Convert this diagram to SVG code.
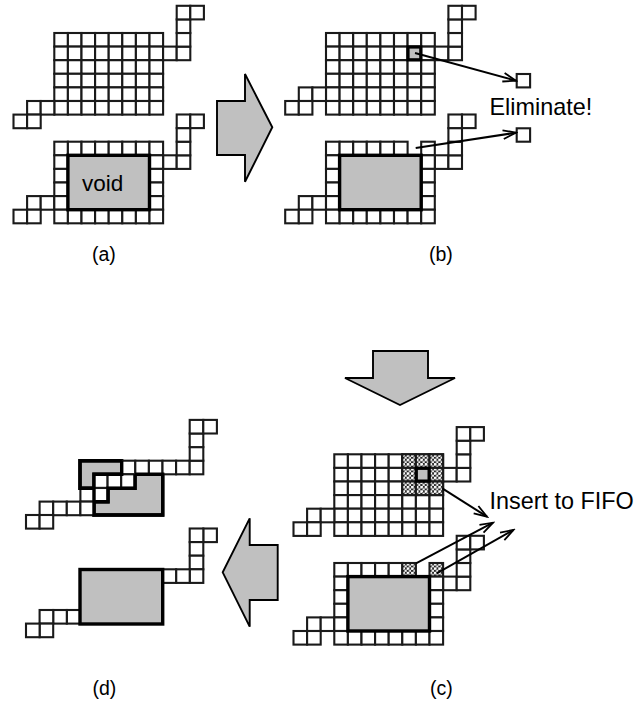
<svg xmlns="http://www.w3.org/2000/svg" width="644" height="702" viewBox="0 0 644 702">
<style>
.c{fill:#fff;stroke:#1a1a1a;stroke-width:2.1}
.h{fill:url(#hatch);stroke:#1a1a1a;stroke-width:2.1}
.g{fill:#c0c0c0;stroke:#000;stroke-width:3.4}
.s{fill:#c0c0c0;stroke:#000;stroke-width:3.2}
.b{fill:#c0c0c0;stroke:#000;stroke-width:1.9;stroke-linejoin:miter}
.t{font-family:"Liberation Sans",Arial,sans-serif;fill:#000}
.l{font-size:19.5px}
.m{font-size:23.4px}
.a{fill:none;stroke:#000;stroke-width:2}
</style>
<defs>
<pattern id="hatch" width="4.4" height="4.4" patternUnits="userSpaceOnUse">
<rect width="4.4" height="4.4" fill="#222"/><circle cx="1.2" cy="1.2" r="1.5" fill="#fff"/><circle cx="3.4" cy="3.4" r="1.3" fill="#eee"/>
</pattern>
<marker id="v" markerUnits="userSpaceOnUse" markerWidth="16" markerHeight="14" refX="14" refY="7" orient="auto">
<path d="M1 2.6 L14 7 L1 11.4" fill="none" stroke="#000" stroke-width="1.8"/>
</marker>
<rect id="k" class="c" width="13.6" height="13.6"/>
<g id="row"><use href="#k"/><use href="#k" x="13.6"/><use href="#k" x="27.2"/><use href="#k" x="40.8"/><use href="#k" x="54.4"/><use href="#k" x="68"/><use href="#k" x="81.6"/><use href="#k" x="95.2"/></g>
<g id="sr"><use href="#k" x="108.8" y="13.6"/><use href="#k" x="122.4" y="13.6"/><use href="#k" x="122.4"/><use href="#k" x="122.4" y="-13.6"/><use href="#k" x="122.4" y="-27.2"/><use href="#k" x="136" y="-27.2"/></g>
<g id="sl"><use href="#k" x="-27.2" y="54.4"/><use href="#k" x="-13.6" y="54.4"/><use href="#k" x="-40.8" y="68"/><use href="#k" x="-27.2" y="68"/></g>
<g id="rows"><use href="#row"/><use href="#row" y="13.6"/><use href="#row" y="27.2"/><use href="#row" y="40.8"/><use href="#row" y="54.4"/><use href="#row" y="68"/></g>
<g id="ring"><use href="#sr"/><use href="#sl"/><use href="#k" y="13.6"/><use href="#k" y="27.2"/><use href="#k" y="40.8"/><use href="#k" y="54.4"/><use href="#k" x="95.2" y="13.6"/><use href="#k" x="95.2" y="27.2"/><use href="#k" x="95.2" y="40.8"/><use href="#k" x="95.2" y="54.4"/><use href="#row" y="68"/><rect class="g" x="13.6" y="13.6" width="81.6" height="54.4"/></g>
<g id="t6"><use href="#k"/><use href="#k" x="13.6"/><use href="#k" x="27.2"/><use href="#k" x="40.8"/><use href="#k" x="54.4"/></g>
<rect id="hc" class="h" width="13.6" height="13.6"/>
</defs>
<rect width="644" height="702" fill="#fff"/>

<g id="a-top" transform="translate(54.3 33)"><use href="#rows"/><use href="#sr"/><use href="#sl" y="13.6"/></g>
<g id="a-bottom" transform="translate(54.3 141.7)"><use href="#row"/><use href="#ring"/></g>
<g id="a-void"><text class="t" x="82" y="190.5" font-size="22.5px">void</text></g>
<g id="a-label"><text class="t l" x="92" y="261">(a)</text></g>

<g id="arrow-ab"><polygon class="b" points="217,101 245,101 245,74 272.3,127.3 245,181.7 245,155 217,155"/></g>

<g id="b-top" transform="translate(326 33)"><use href="#rows"/><use href="#sr"/><use href="#sl"/><rect class="s" x="82" y="14" width="12.8" height="12.8"/></g>
<g id="b-bottom" transform="translate(326 141.7)"><use href="#t6"/><use href="#k" x="68"/><use href="#k" x="95.2"/><use href="#ring"/></g>
<g id="b-target-1"><rect class="c" x="516.7" y="74" width="13.4" height="13.4"/></g>
<g id="b-target-2"><rect class="c" x="516.7" y="128.3" width="13.4" height="13.4"/></g>
<g id="b-text"><text class="t m" x="489.5" y="115">Eliminate!</text></g>
<g id="b-label"><text class="t l" x="429" y="261">(b)</text></g>

<g id="arrow-bc"><polygon class="b" points="373,351 428,351 428,378 455,378 400,405 345,378 373,378"/></g>

<g id="c-top" transform="translate(334.3 454.3)"><use href="#rows"/><use href="#sr"/><use href="#sl"/>
<use href="#hc" x="68"/><use href="#hc" x="81.6"/><use href="#hc" x="95.2"/><use href="#hc" x="68" y="13.6"/><use href="#hc" x="95.2" y="13.6"/><use href="#hc" x="68" y="27.2"/><use href="#hc" x="81.6" y="27.2"/><use href="#hc" x="95.2" y="27.2"/>
<rect class="s" x="82" y="14" width="12.8" height="12.8"/></g>
<g id="c-bottom" transform="translate(334.3 563)"><use href="#t6"/><use href="#hc" x="68"/><use href="#hc" x="95.2"/><use href="#ring"/></g>
<g id="c-text"><text class="t m" x="489.5" y="509">Insert to FIFO</text></g>
<g id="c-label"><text class="t l" x="430" y="695">(c)</text></g>

<g id="arrow-cd"><polygon class="b" points="277.7,545 249.7,545 249.7,518.3 222.7,572.3 249.7,626.7 249.7,600 277.7,600"/></g>

<g id="d-top">
<polygon class="g" points="80,460.7 121.7,460.7 121.7,474.3 94,474.3 94,488.3 80,488.3"/>
<polygon class="g" points="135,474.3 162.7,474.3 162.7,515 94,515 94,501.7 108,501.7 108,488.3 135,488.3"/>
<use href="#k" x="121.7" y="460.7"/><use href="#k" x="135.3" y="460.7"/><use href="#k" x="148.9" y="460.7"/><use href="#k" x="162.5" y="460.7"/><use href="#k" x="176.1" y="460.7"/><use href="#k" x="189.7" y="460.7"/>
<use href="#k" x="189.7" y="447.1"/><use href="#k" x="189.7" y="433.5"/><use href="#k" x="189.7" y="419.9"/><use href="#k" x="203.3" y="419.9"/>
<use href="#k" x="94" y="474.3"/><use href="#k" x="107.6" y="474.3"/><use href="#k" x="121.2" y="474.3"/>
<use href="#k" x="80.4" y="488"/><use href="#k" x="94" y="488"/>
<use href="#k" x="39.6" y="501.6"/><use href="#k" x="53.2" y="501.6"/><use href="#k" x="66.8" y="501.6"/><use href="#k" x="80.4" y="501.6"/>
<use href="#k" x="26" y="515"/><use href="#k" x="39.6" y="515"/>
<path d="M121.7 460.7 V474.3 H94 V501.7 M94 488.3 H80 V460.7 H121.7 M135 474.3 V488.3 H108 V501.7 H94 V515 H162.7 V474.3 H135" fill="none" stroke="#000" stroke-width="3.4"/>
</g>
<g id="d-bottom">
<use href="#k" x="203.3" y="528.5"/><use href="#k" x="189.7" y="528.5"/><use href="#k" x="189.7" y="542.1"/><use href="#k" x="189.7" y="555.7"/><use href="#k" x="189.7" y="569.3"/><use href="#k" x="176.1" y="569.3"/><use href="#k" x="162.5" y="569.3"/>
<use href="#k" x="66.8" y="610"/><use href="#k" x="53.2" y="610"/><use href="#k" x="39.6" y="610"/><use href="#k" x="39.6" y="623.6"/><use href="#k" x="26" y="623.6"/>
<rect class="g" x="80" y="569.5" width="82.7" height="54.5"/>
</g>
<g id="d-label"><text class="t l" x="92.5" y="695">(d)</text></g>

<g id="connectors">
<line class="a" x1="415" y1="53" x2="516" y2="80.7" marker-end="url(#v)"/>
<line class="a" x1="415.7" y1="148" x2="516" y2="132.7" marker-end="url(#v)"/>
<line class="a" x1="442.3" y1="488.3" x2="487" y2="516.7" marker-end="url(#v)"/>
<line class="a" x1="416" y1="563.3" x2="493" y2="522.7" marker-end="url(#v)"/>
<line class="a" x1="436.7" y1="573.3" x2="513.5" y2="530" marker-end="url(#v)"/>
</g>
</svg>
